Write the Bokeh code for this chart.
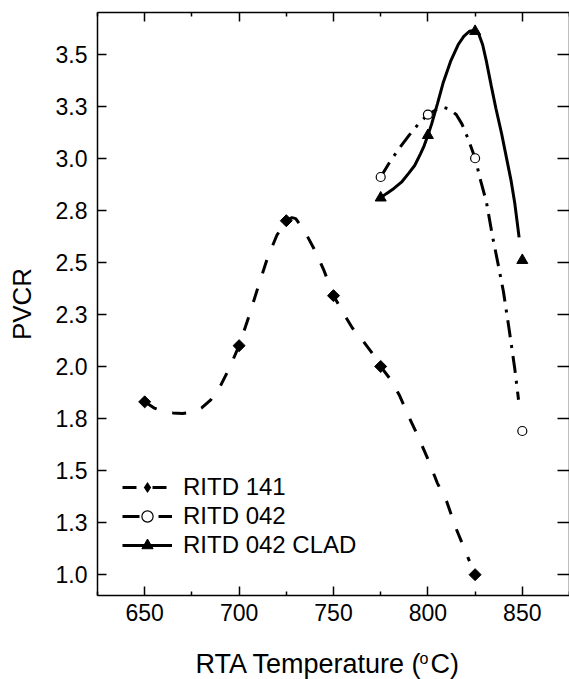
import math
from bokeh.plotting import figure
from bokeh.layouts import column
from bokeh.models import (LinearAxis, FixedTicker, Legend, LegendItem, Range1d)
from bokeh.core.properties import value
from bokeh.embed import file_html
from bokeh.resources import INLINE

# ---- data ----
x141 = [650, 700, 725, 750, 775, 825]
y141 = [1.83, 2.10, 2.70, 2.34, 2.00, 1.00]

x042 = [775, 800, 825, 850]
y042 = [2.91, 3.21, 3.00, 1.69]

xclad = [775, 800, 825, 850]
yclad = [2.81, 3.11, 3.61, 2.51]

# smooth curves as drawn in the picture
c141_x = [650, 655, 660, 665, 670, 675, 680, 685, 690, 695, 700, 705, 710, 715, 720,
          725, 728, 730, 735, 740, 745, 750, 755, 760, 765, 770, 775, 780, 785, 790,
          795, 800, 805, 810, 815, 820, 822]
c141_y = [1.83, 1.80, 1.785, 1.777, 1.774, 1.78, 1.80, 1.84, 1.905, 1.995, 2.10, 2.235,
          2.38, 2.52, 2.63, 2.70, 2.715, 2.71, 2.645, 2.56, 2.46, 2.34, 2.26, 2.185,
          2.13, 2.07, 2.00, 1.94, 1.86, 1.757, 1.66, 1.555, 1.44, 1.35, 1.22, 1.11, 1.065]

c042_x = [775, 780, 785, 790, 795, 800, 805, 808, 811, 815, 818, 821, 825, 828, 831,
          834, 837, 840, 843, 846, 848]
c042_y = [2.91, 2.985, 3.05, 3.11, 3.165, 3.21, 3.237, 3.245, 3.237, 3.21, 3.165, 3.10,
          3.00, 2.89, 2.79, 2.635, 2.50, 2.36, 2.18, 1.99, 1.84]

cclad_x = [775, 778, 782, 786, 790, 793, 796, 798, 800, 802, 805, 808, 812, 816, 819,
           822, 825, 827, 829, 831, 833.5, 836, 839, 842, 844, 846, 848.3]
cclad_y = [2.81, 2.83, 2.855, 2.885, 2.93, 2.965, 3.02, 3.06, 3.11, 3.165, 3.26, 3.36,
           3.465, 3.545, 3.585, 3.61, 3.615, 3.595, 3.545, 3.465, 3.35, 3.24, 3.12,
           2.985, 2.895, 2.785, 2.62]

x_ticks = [650, 700, 750, 800, 850]
x_minor = [625, 675, 725, 775, 825, 875]
y_ticks = [1.0, 1.25, 1.5, 1.75, 2.0, 2.25, 2.5, 2.75, 3.0, 3.25, 3.5]
y_labels = ["1.0", "1.3", "1.5", "1.8", "2.0", "2.3", "2.5", "2.8", "3.0", "3.3", "3.5"]
names = ["RITD 141", "RITD 042", "RITD 042 CLAD"]
x_title = ["RTA Temperature (", "o", "C)"]
y_title = "PVCR"

FONT = "Liberation Sans"

p = figure(width=569, height=635, output_backend="svg", toolbar_location=None,
           x_range=Range1d(625, 875), y_range=Range1d(0.9, 3.7),
           min_border_left=97, min_border_right=0, min_border_top=12,
           min_border_bottom=40, x_axis_location=None, y_axis_location=None)
p.xgrid.visible = False
p.ygrid.visible = False
p.outline_line_color = None
p.background_fill_color = "white"
p.border_fill_color = "white"


def style_axis(ax, labels=True):
    ax.axis_line_color = "black"
    ax.axis_line_width = 1.5
    ax.major_tick_line_color = "black"
    ax.major_tick_line_width = 1.5
    ax.minor_tick_line_color = "black"
    ax.minor_tick_line_width = 1.5
    ax.major_tick_in = 9
    ax.major_tick_out = 0
    ax.minor_tick_in = 4
    ax.minor_tick_out = 0
    ax.major_label_text_font = FONT
    if labels:
        ax.major_label_text_color = "black"
        ax.major_label_text_font_size = "23px"
    else:
        ax.major_label_text_color = None
        ax.major_label_text_alpha = 0
        ax.major_label_text_font_size = "1px"
        ax.major_label_standoff = 0


xt = FixedTicker(ticks=x_ticks, minor_ticks=x_minor)
yt = FixedTicker(ticks=y_ticks, minor_ticks=[])
yover = {t: l for t, l in zip(y_ticks, y_labels)}

xb = LinearAxis(ticker=xt)
style_axis(xb)
xb.major_label_standoff = 8
p.add_layout(xb, "below")

xa = LinearAxis(ticker=xt)
style_axis(xa, labels=False)
p.add_layout(xa, "above")

yl = LinearAxis(ticker=yt, major_label_overrides=yover, axis_label=y_title)
style_axis(yl)
yl.major_label_standoff = 10
yl.axis_label_text_font = FONT
yl.axis_label_text_font_size = "26px"
yl.axis_label_text_font_style = "normal"
yl.axis_label_text_color = "black"
yl.axis_label_standoff = 16
p.add_layout(yl, "left")

yr = LinearAxis(ticker=yt)
style_axis(yr, labels=False)
yr.major_tick_in = 12
p.add_layout(yr, "right")

# curves
l1 = p.line(c141_x, c141_y, line_color="black", line_width=3, line_dash="14 16")
l2 = p.line(c042_x, c042_y, line_color="black", line_width=3, line_dash="17 8 3 8")
l3 = p.line(cclad_x, cclad_y, line_color="black", line_width=3)

# markers
m1 = p.scatter(x141, y141, marker="square", size=8.5, angle=math.pi / 4,
               fill_color="black", line_color="black", line_width=1)
m2 = p.scatter(x042, y042, marker="circle", size=9, fill_color="white",
               line_color="black", line_width=1.2)
m3 = p.scatter(xclad, yclad, marker="triangle", size=11, fill_color="black",
               line_color="black", line_width=1)
# legend swatch for the diamond (legend glyphs ignore marker angle);
# zero size in the plot, sized by the legend itself
m1_leg = p.scatter(x141, y141, marker="diamond", size=0,
                   fill_color="black", line_color=None)

legend = Legend(items=[LegendItem(label=names[0], renderers=[l1, m1_leg]),
                       LegendItem(label=names[1], renderers=[l2, m2]),
                       LegendItem(label=names[2], renderers=[l3, m3])],
                location=(25, 36), orientation="vertical",
                glyph_width=50, glyph_height=28, label_height=28,
                label_standoff=11, spacing=1, padding=0, margin=0,
                border_line_color=None, background_fill_alpha=0,
                label_text_font=FONT, label_text_font_size="24px",
                label_text_color="black", label_text_baseline="middle")
p.add_layout(legend, "center")

# x axis title strip (with superscript degree); its frame is aligned with the
# main plot's frame (97..569 px), so the range is given in canvas pixels
t = figure(width=569, height=44, output_backend="svg", toolbar_location=None,
           x_range=Range1d(97, 569), y_range=Range1d(0, 44), min_border=0,
           x_axis_location=None, y_axis_location=None)
t.xgrid.visible = False
t.ygrid.visible = False
t.outline_line_color = None
t.background_fill_color = "white"
t.border_fill_color = "white"
t.text(x=[195], y=[15.5], text=[x_title[0]], text_align="left",
       text_baseline="middle", text_font=value(FONT),
       text_font_size="27px", text_color="black")
t.text(x=[419], y=[21.5], text=[x_title[1]], text_align="left",
       text_baseline="middle", text_font=value(FONT),
       text_font_size="16px", text_color="black")
t.text(x=[430], y=[15.5], text=[x_title[2]], text_align="left",
       text_baseline="middle", text_font=value(FONT),
       text_font_size="27px", text_color="black")

layout = column(p, t, spacing=0)
open("out.html", "w").write(file_html(layout, INLINE))
